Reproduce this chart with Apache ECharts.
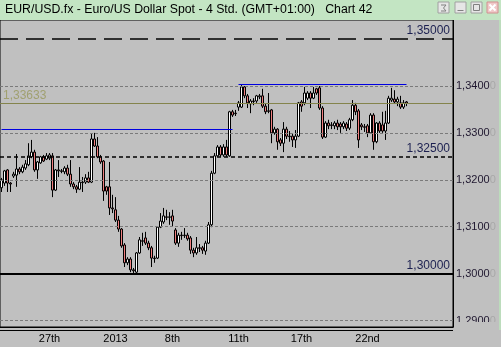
<!DOCTYPE html>
<html>
<head>
<meta charset="utf-8">
<script src="https://cdn.jsdelivr.net/npm/echarts@6/dist/echarts.min.js"></script>
<style>html,body{margin:0;padding:0;background:#c0c0c0;}#c{width:501px;height:347px;}</style>
</head>
<body>
<div id="c"></div>
<script>
// ---- data ----
const titleText = 'EUR/USD.fx - Euro/US Dollar Spot - 4 Std. (GMT+01:00)   Chart 42';
// [open, close, low, high]
const ohlc = [
[1.3183,1.3200,1.3174,1.3204],[1.3193,1.3219,1.3187,1.3221],[1.3221,1.3193,1.3174,1.3223],[1.3193,1.3191,1.3174,1.3195],
[1.3208,1.3212,1.3204,1.3217],[1.3210,1.3223,1.3185,1.3255],[1.3223,1.3217,1.3212,1.3227],[1.3217,1.3227,1.3214,1.3232],
[1.3225,1.3234,1.3221,1.3242],[1.3232,1.3251,1.3229,1.3278],[1.3249,1.3259,1.3246,1.3285],[1.3259,1.3221,1.3217,1.3264],
[1.3221,1.3238,1.3202,1.3240],[1.3236,1.3249,1.3234,1.3251],[1.3249,1.3240,1.3238,1.3253],[1.3244,1.3251,1.3242,1.3257],
[1.3246,1.3253,1.3242,1.3257],[1.3251,1.3178,1.3163,1.3257],[1.3178,1.3221,1.3176,1.3223],[1.3221,1.3219,1.3206,1.3242],
[1.3219,1.3218,1.3214,1.3223],[1.3217,1.3225,1.3212,1.3229],[1.3225,1.3212,1.3208,1.3232],[1.3212,1.3191,1.3185,1.3242],
[1.3191,1.3185,1.3180,1.3195],[1.3185,1.3180,1.3172,1.3189],[1.3180,1.3195,1.3178,1.3227],[1.3195,1.3194,1.3174,1.3206],
[1.3195,1.3204,1.3191,1.3212],[1.3204,1.3195,1.3193,1.3217],[1.3195,1.3287,1.3193,1.3298],[1.3287,1.3272,1.3270,1.3300],
[1.3272,1.3249,1.3246,1.3291],[1.3249,1.3238,1.3234,1.3253],[1.3240,1.3176,1.3155,1.3242],[1.3185,1.3176,1.3168,1.3187],
[1.3185,1.3140,1.3125,1.3238],[1.3140,1.3138,1.3129,1.3168],[1.3136,1.3114,1.3110,1.3163],[1.3114,1.3095,1.3089,1.3123],
[1.3095,1.3059,1.3055,1.3097],[1.3061,1.3023,1.3014,1.3065],[1.3023,1.3031,1.3018,1.3035],[1.3031,1.3008,1.3003,1.3035],
[1.3008,1.3006,1.2997,1.3012],[1.3003,1.3044,1.2999,1.3046],[1.3044,1.3072,1.3042,1.3078],[1.3070,1.3069,1.3059,1.3087],
[1.3076,1.3065,1.3061,1.3089],[1.3065,1.3055,1.3050,1.3070],[1.3055,1.3033,1.3014,1.3059],[1.3033,1.3032,1.3023,1.3038],
[1.3033,1.3099,1.3031,1.3101],[1.3099,1.3112,1.3097,1.3129],[1.3110,1.3123,1.3106,1.3140],[1.3121,1.3120,1.3114,1.3136],
[1.3120,1.3121,1.3104,1.3131],[1.3123,1.3112,1.3101,1.3136],[1.3093,1.3065,1.3061,1.3097],[1.3065,1.3082,1.3057,1.3087],
[1.3082,1.3081,1.3072,1.3089],[1.3081,1.3082,1.3076,1.3097],[1.3082,1.3074,1.3070,1.3087],[1.3076,1.3050,1.3042,1.3080],
[1.3050,1.3044,1.3035,1.3055],[1.3044,1.3055,1.3040,1.3078],[1.3055,1.3054,1.3046,1.3063],[1.3055,1.3050,1.3042,1.3059],
[1.3048,1.3065,1.3040,1.3070],[1.3065,1.3104,1.3063,1.3110],[1.3104,1.3214,1.3099,1.3219],[1.3214,1.3251,1.3212,1.3257],
[1.3251,1.3270,1.3249,1.3274],[1.3270,1.3253,1.3249,1.3274],[1.3253,1.3270,1.3249,1.3276],[1.3270,1.3253,1.3249,1.3285],
[1.3251,1.3345,1.3249,1.3347],[1.3345,1.3338,1.3334,1.3349],[1.3342,1.3341,1.3336,1.3349],[1.3355,1.3364,1.3347,1.3368],
[1.3355,1.3398,1.3353,1.3402],[1.3398,1.3379,1.3374,1.3400],[1.3379,1.3364,1.3353,1.3383],[1.3362,1.3368,1.3342,1.3372],
[1.3368,1.3367,1.3359,1.3374],[1.3368,1.3379,1.3364,1.3381],[1.3377,1.3379,1.3372,1.3383],[1.3379,1.3357,1.3353,1.3394],
[1.3357,1.3345,1.3340,1.3362],[1.3347,1.3346,1.3342,1.3385],[1.3349,1.3300,1.3278,1.3351],[1.3300,1.3308,1.3296,1.3313],
[1.3308,1.3281,1.3264,1.3310],[1.3285,1.3278,1.3272,1.3289],[1.3278,1.3308,1.3259,1.3323],[1.3308,1.3293,1.3287,1.3313],
[1.3293,1.3292,1.3281,1.3304],[1.3293,1.3285,1.3270,1.3298],[1.3285,1.3293,1.3268,1.3306],[1.3293,1.3364,1.3291,1.3366],
[1.3366,1.3357,1.3345,1.3370],[1.3364,1.3385,1.3359,1.3398],[1.3374,1.3385,1.3370,1.3389],[1.3385,1.3374,1.3353,1.3389],
[1.3374,1.3385,1.3372,1.3398],[1.3394,1.3385,1.3381,1.3396],[1.3396,1.3353,1.3349,1.3400],[1.3353,1.3291,1.3287,1.3357],
[1.3291,1.3321,1.3289,1.3325],[1.3321,1.3315,1.3308,1.3328],[1.3317,1.3316,1.3308,1.3323],[1.3315,1.3321,1.3308,1.3325],
[1.3321,1.3313,1.3306,1.3328],[1.3319,1.3313,1.3300,1.3323],[1.3313,1.3321,1.3308,1.3325],[1.3319,1.3310,1.3304,1.3323],
[1.3310,1.3328,1.3306,1.3332],[1.3328,1.3359,1.3325,1.3370],[1.3359,1.3345,1.3338,1.3364],[1.3347,1.3285,1.3268,1.3351],
[1.3317,1.3313,1.3306,1.3321],[1.3313,1.3312,1.3302,1.3319],[1.3315,1.3300,1.3291,1.3319],[1.3300,1.3338,1.3298,1.3342],
[1.3338,1.3281,1.3264,1.3342],[1.3281,1.3321,1.3278,1.3323],[1.3321,1.3304,1.3300,1.3325],[1.3317,1.3304,1.3300,1.3345],
[1.3304,1.3321,1.3285,1.3347],[1.3321,1.3374,1.3319,1.3379],[1.3370,1.3374,1.3366,1.3396],[1.3372,1.3366,1.3362,1.3391],
[1.3366,1.3372,1.3357,1.3377],[1.3364,1.3355,1.3351,1.3379],[1.3355,1.3364,1.3351,1.3370],[1.3366,1.33633,1.3357,1.3368]
];
const emptySlots = 15;
const dayLabels = ['27th','2013','8th','11th','17th','22nd'];
const dayLabelIndex = [16, 38, 57, 79, 100, 122];
const yTicks = [1.29, 1.30, 1.31, 1.32, 1.33, 1.34];
const yMin = 1.28861, yMax = 1.35407;
const levelLines = [1.35, 1.325, 1.30];
const currentPrice = 1.33633;
const blueLine1 = {from: 0, to: 77, value: 1.3308};
const blueLine2 = {from: 79, to: 135, value: 1.3404};

// ---- build ----
const categories = [];
for (let i = 0; i < ohlc.length + emptySlots; i++) categories.push(String(i));
const fmt = (v, d) => v.toFixed(d).replace('.', ',');

const chart = echarts.init(document.getElementById('c'), null, {renderer: 'canvas'});

const levelStyles = {
  1.35: {color: '#000', type: [18, 8], width: 1.5},
  1.325: {color: '#000', type: [4, 3], width: 1.5},
  1.30: {color: '#000', type: 'solid', width: 2}
};

const markData = [];
yTicks.forEach(v => markData.push({yAxis: v, lineStyle: {color: '#7a7a7a', type: [3, 2], width: 1}, label: {show: false}}));
levelLines.forEach(v => markData.push({
  yAxis: v, lineStyle: levelStyles[v],
  label: {show: true, position: 'insideEndTop', distance: [3, 2], formatter: fmt(v, 5), color: '#1c2050', fontSize: 12, fontFamily: 'Liberation Sans'}
}));
markData.push({yAxis: currentPrice, lineStyle: {color: '#84844c', type: 'solid', width: 1},
  label: {show: true, position: 'insideStartTop', distance: [3, 2], formatter: fmt(currentPrice, 5), color: '#a0a070', fontSize: 12, fontFamily: 'Liberation Sans'}});
[blueLine1, blueLine2].forEach(b => markData.push([
  {coord: [b.from, b.value], lineStyle: {color: '#0000e0', type: 'solid', width: 1}, label: {show: false}},
  {coord: [b.to, b.value]}
]));

const option = {
  animation: false,
  backgroundColor: '#c0c0c0',
  grid: {left: 0, right: 48, top: 20, bottom: 20, show: true, borderColor: '#000', borderWidth: 1, backgroundColor: '#c0c0c0'},
  xAxis: {
    type: 'category', data: categories, boundaryGap: true,
    axisLine: {show: true, lineStyle: {color: '#000', width: 1}},
    axisTick: {show: false},
    splitLine: {show: false},
    axisLabel: {
      interval: (idx) => dayLabelIndex.indexOf(idx) >= 0,
      formatter: (val, idx) => { const k = dayLabelIndex.indexOf(idx); return k >= 0 ? dayLabels[k] : ''; },
      color: '#000', fontSize: 11, fontFamily: 'Liberation Sans', margin: 6
    }
  },
  yAxis: {
    type: 'value', position: 'right', min: yMin, max: yMax, scale: true,
    axisLine: {show: true, lineStyle: {color: '#000', width: 1}},
    axisTick: {show: false},
    splitLine: {show: false},
    axisLabel: {
      customValues: yTicks,
      margin: 3,
      formatter: v => '{a|' + fmt(v, 4) + '}{b|0}',
      rich: {
        a: {color: '#201830', fontSize: 11, fontFamily: 'Liberation Sans'},
        b: {color: '#a8a8a8', fontSize: 11, fontFamily: 'Liberation Sans'}
      }
    }
  },
  series: [{
    type: 'candlestick',
    data: ohlc,
    barWidth: 3,
    itemStyle: {color: '#ffffff', color0: '#f07f7f', borderColor: '#000', borderColor0: '#000', borderWidth: 1},
    markLine: {silent: true, precision: 6, symbol: ['none', 'none'], animation: false, data: markData, emphasis: {disabled: true}}
  }],
  graphic: [
    {type: 'rect', shape: {x: 0, y: 0, width: 501, height: 20}, style: {fill: '#c3e5c3'}, z: 100},
    {type: 'text', x: 5, y: 10, style: {text: titleText, font: '12.3px "Liberation Sans"', fill: '#000', textVerticalAlign: 'middle'}, z: 101},
    {type: 'rect', shape: {x: 438, y: 2, width: 11, height: 11}, style: {fill: '#e6e6e6', stroke: '#a0a0a0'}, z: 101},
    {type: 'polyline', shape: {points: [[441, 5], [446, 5], [443.5, 8], [446, 11], [441, 11]]}, style: {stroke: '#808080', fill: null}, z: 102},
    {type: 'rect', shape: {x: 455, y: 2, width: 11, height: 11}, style: {fill: '#e6e6e6', stroke: '#a0a0a0'}, z: 101},
    {type: 'line', shape: {x1: 457.5, y1: 10.5, x2: 463.5, y2: 10.5}, style: {stroke: '#808080', lineWidth: 1}, z: 102},
    {type: 'rect', shape: {x: 471, y: 2, width: 11, height: 11}, style: {fill: '#e6e6e6', stroke: '#a0a0a0'}, z: 101},
    {type: 'rect', shape: {x: 473.5, y: 4.5, width: 6, height: 6}, style: {fill: null, stroke: '#808080'}, z: 102},
    {type: 'rect', shape: {x: 487, y: 2, width: 11, height: 11}, style: {fill: '#f0c8c8', stroke: '#d09090'}, z: 101},
    {type: 'line', shape: {x1: 489.5, y1: 4.5, x2: 495.5, y2: 10.5}, style: {stroke: '#ffffff', lineWidth: 2}, z: 102},
    {type: 'line', shape: {x1: 495.5, y1: 4.5, x2: 489.5, y2: 10.5}, style: {stroke: '#ffffff', lineWidth: 2}, z: 102},
    {type: 'rect', shape: {x: 454, y: 322, width: 47, height: 25}, style: {fill: '#c0c0c0'}, z: 100},
    {type: 'line', shape: {x1: 0, y1: 330.5, x2: 453, y2: 330.5}, style: {stroke: '#000', lineWidth: 1}, z: 100},
    {type: 'rect', shape: {x: 499, y: 20, width: 2, height: 310}, style: {fill: '#bcdcbc'}, z: 100}
  ]
};
chart.setOption(option);
</script>
</body>
</html>
